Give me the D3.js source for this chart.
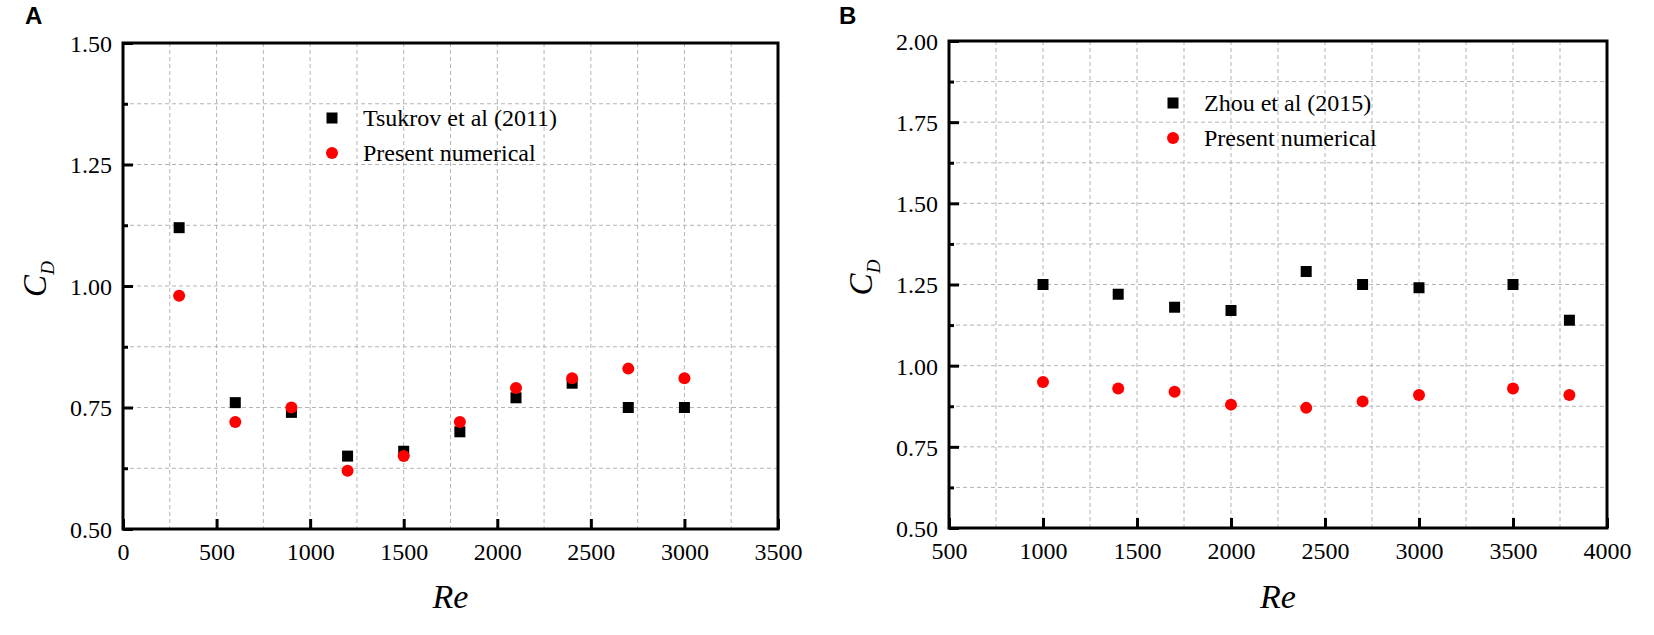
<!DOCTYPE html>
<html>
<head>
<meta charset="utf-8">
<script src="https://cdn.jsdelivr.net/npm/d3@7"></script>
<style>
  body { margin: 0; background: #fff; }
  svg { display: block; }
  .tick text { font-family: "Liberation Serif", "Times New Roman", serif; }
</style>
</head>
<body>
<div id="chart"></div>
<script>
// panel A
const reA = [300, 600, 900, 1200, 1500, 1800, 2100, 2400, 2700, 3000];
const tsukrov = [1.12, 0.76, 0.74, 0.65, 0.66, 0.70, 0.77, 0.80, 0.75, 0.75];
const presentA = [0.98, 0.72, 0.75, 0.62, 0.65, 0.72, 0.79, 0.81, 0.83, 0.81];
const xTicksA = [0, 500, 1000, 1500, 2000, 2500, 3000, 3500];
const yTicksA = [0.50, 0.75, 1.00, 1.25, 1.50];

// panel B
const reB = [1000, 1400, 1700, 2000, 2400, 2700, 3000, 3500, 3800];
const zhou = [1.25, 1.22, 1.18, 1.17, 1.29, 1.25, 1.24, 1.25, 1.14];
const presentB = [0.95, 0.93, 0.92, 0.88, 0.87, 0.89, 0.91, 0.93, 0.91];
const xTicksB = [500, 1000, 1500, 2000, 2500, 3000, 3500, 4000];
const yTicksB = [0.50, 0.75, 1.00, 1.25, 1.50, 1.75, 2.00];

const seriesNamesA = ["Tsukrov et al (2011)", "Present numerical"];
const seriesNamesB = ["Zhou et al (2015)", "Present numerical"];

let width = 1654, height = 635;

let svg = d3.select("#chart")
  .append("svg")
  .attr("width", width)
  .attr("height", height)

const serif = '"Liberation Serif", "Times New Roman", serif';

function drawPanel(opt){
  let x = d3.scaleLinear().domain([opt.xTicks[0], opt.xTicks[opt.xTicks.length-1]]).range([opt.left, opt.right]);
  let y = d3.scaleLinear().domain([opt.yTicks[0], opt.yTicks[opt.yTicks.length-1]]).range([opt.bottom, opt.top]);

  let g = svg.append("g")

  // minor + major positions for grid
  let xStep = (opt.xTicks[1] - opt.xTicks[0]) / 2,
      yStep = (opt.yTicks[1] - opt.yTicks[0]) / 2;
  let xGrid = d3.range(opt.xTicks[0] + xStep, x.domain()[1] - 1e-6, xStep),
      yGrid = d3.range(opt.yTicks[0] + yStep, y.domain()[1] - 1e-6, yStep);
  let yMinor = yGrid.filter((d,i) => i % 2 === 0);

  g.append("g").selectAll("line")
    .data(xGrid).enter().append("line")
    .attr("x1", d => x(d)).attr("x2", d => x(d))
    .attr("y1", opt.top).attr("y2", opt.bottom)
    .attr("stroke", "#b4b4b4").attr("stroke-width", 1).attr("stroke-dasharray", "4,3")

  g.append("g").selectAll("line")
    .data(yGrid).enter().append("line")
    .attr("y1", d => y(d)).attr("y2", d => y(d))
    .attr("x1", opt.left).attr("x2", opt.right)
    .attr("stroke", "#b4b4b4").attr("stroke-width", 1).attr("stroke-dasharray", "4,3")

  // axes, ticks pointing inward
  let xAxis = g.append("g")
    .attr("transform", `translate(0,${opt.bottom})`)
    .call(d3.axisBottom(x).tickValues(opt.xTicks).tickSizeInner(-10).tickSizeOuter(0).tickPadding(14).tickFormat(d3.format("d")))
  let yAxis = g.append("g")
    .attr("transform", `translate(${opt.left},0)`)
    .call(d3.axisLeft(y).tickValues(opt.yTicks).tickSizeInner(-10).tickSizeOuter(0).tickPadding(11).tickFormat(d3.format(".2f")))
  let yAxisMinor = g.append("g")
    .attr("transform", `translate(${opt.left},0)`)
    .call(d3.axisLeft(y).tickValues(yMinor).tickSizeInner(-5).tickSizeOuter(0).tickFormat(""))

  ;[xAxis, yAxis, yAxisMinor].forEach(a => {
    a.select(".domain").remove()
    a.selectAll(".tick line").attr("stroke", "#000").attr("stroke-width", 3)
    a.selectAll(".tick text").style("font-size", "24px").attr("fill", "#000")
  })
  yAxis.selectAll(".tick text").attr("dy", "0.35em")

  // frame
  g.append("rect")
    .attr("x", opt.left).attr("y", opt.top)
    .attr("width", opt.right - opt.left).attr("height", opt.bottom - opt.top)
    .attr("fill", "none").attr("stroke", "#000").attr("stroke-width", 3)

  // points: squares, then circles on top
  g.append("g").selectAll("rect")
    .data(opt.re.map((r,i) => ({re: r, v: opt.ref[i]}))).enter().append("rect")
    .attr("x", d => x(d.re) - 5.5).attr("y", d => y(d.v) - 5.5)
    .attr("width", 11).attr("height", 11).attr("fill", "#000")

  g.append("g").selectAll("circle")
    .data(opt.re.map((r,i) => ({re: r, v: opt.num[i]}))).enter().append("circle")
    .attr("cx", d => x(d.re)).attr("cy", d => y(d.v))
    .attr("r", 6).attr("fill", "#ff0000")

  // legend
  let lg = g.append("g").attr("transform", `translate(${opt.legend[0]},${opt.legend[1]})`)
  lg.append("rect").attr("x", -5.5).attr("y", -5.5).attr("width", 11).attr("height", 11).attr("fill", "#000")
  lg.append("circle").attr("cx", 0).attr("cy", 35).attr("r", 6).attr("fill", "#ff0000")
  lg.selectAll("text").data(opt.names).enter().append("text")
    .attr("x", 31).attr("y", (d,i) => i * 35 + 8)
    .style("font-family", serif).style("font-size", "24px")
    .text(d => d)

  // axis titles
  g.append("text")
    .attr("x", (opt.left + opt.right) / 2).attr("y", 608)
    .attr("text-anchor", "middle")
    .style("font-family", serif).style("font-size", "34px").style("font-style", "italic")
    .text("Re")

  let cd = g.append("text")
    .attr("transform", `translate(${opt.left - 77},${(opt.top + opt.bottom) / 2 - 7}) rotate(-90)`)
    .attr("text-anchor", "middle")
    .style("font-family", serif).style("font-size", "33px").style("font-style", "italic")
  cd.append("tspan").text("C")
  cd.append("tspan").attr("dy", 8).style("font-size", "19px").text("D")

  // panel letter
  g.append("text")
    .attr("x", opt.letterX).attr("y", 24)
    .style("font-family", '"Liberation Sans", Arial, sans-serif').style("font-weight", "bold").style("font-size", "24px")
    .text(opt.letter)
}

drawPanel({
  left: 123, right: 778, top: 43, bottom: 529,
  xTicks: xTicksA, yTicks: yTicksA,
  re: reA, ref: tsukrov, num: presentA,
  names: seriesNamesA, legend: [332, 118],
  letter: "A", letterX: 25
})

drawPanel({
  left: 949, right: 1607, top: 41, bottom: 528,
  xTicks: xTicksB, yTicks: yTicksB,
  re: reB, ref: zhou, num: presentB,
  names: seriesNamesB, legend: [1173, 103],
  letter: "B", letterX: 839
})
</script>
</body>
</html>
